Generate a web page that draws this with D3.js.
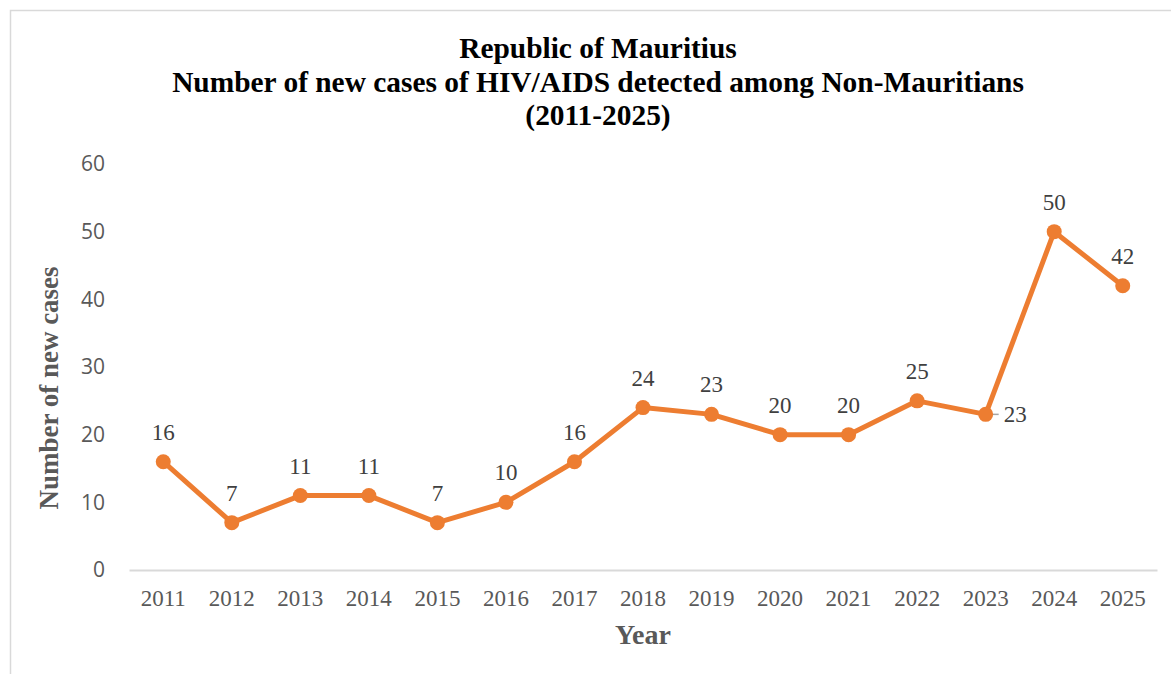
<!DOCTYPE html>
<html>
<head>
<meta charset="utf-8">
<script src="https://cdn.jsdelivr.net/npm/d3@7"></script>
<style>
  body { margin: 0; background: #fff; }
  svg { display: block; }
</style>
</head>
<body>
<div id="plot"></div>
<script>
// chart data
var years = ['2011','2012','2013','2014','2015','2016','2017','2018','2019','2020','2021','2022','2023','2024','2025'];
var cases = [16, 7, 11, 11, 7, 10, 16, 24, 23, 20, 20, 25, 23, 50, 42];
var yTicks = [0, 10, 20, 30, 40, 50, 60];
var titleLines = ['Republic of Mauritius',
  'Number of new cases of HIV/AIDS detected among Non-Mauritians',
  '(2011-2025)'];

var W = 1171, H = 674;
var margin = {t:164, r:14, b:104, l:129};
var orange = '#ED7D31', grey = '#595959';
var serif = '"Liberation Serif","Times New Roman",serif';

var svg = d3.select('#plot').append('svg')
  .attr('width', W).attr('height', H);

// chart area border
svg.append('rect')
  .attr('x', 10.5).attr('y', 10.5)
  .attr('width', W + 20).attr('height', H + 20)
  .style('fill', 'none').style('stroke', '#d9d9d9').style('stroke-width', 1.5);

var x = d3.scaleBand().domain(years).range([margin.l, W - margin.r]);
var y = d3.scaleLinear().domain([0, 60]).range([H - margin.b, margin.t]);

// title
svg.append('text')
  .attr('x', 598).attr('y', 58)
  .attr('text-anchor', 'middle')
  .style('font-family', serif).style('font-weight', 'bold').style('font-size', '29.4px')
  .selectAll('tspan').data(titleLines).enter().append('tspan')
  .attr('x', 598).attr('dy', function(d, i){ return i == 0 ? 0 : 33.5; })
  .text(function(d){ return d; });

// y axis (labels only)
var yAxis = svg.append('g')
  .attr('transform', 'translate(' + margin.l + ',0)')
  .call(d3.axisLeft(y).tickValues(yTicks).tickSize(0).tickPadding(24));
yAxis.select('.domain').remove();
yAxis.selectAll('text')
  .style('font-family', '"Open Sans",sans-serif').style('font-size', '21px')
  .style('fill', grey);

// x axis
var xAxis = svg.append('g')
  .attr('transform', 'translate(0,' + y(0) + ')')
  .call(d3.axisBottom(x).tickSize(0).tickPadding(20));
xAxis.select('.domain').style('stroke', '#d9d9d9').style('stroke-width', 2);
xAxis.selectAll('text')
  .style('font-family', serif).style('font-size', '23px')
  .style('fill', grey);

// axis titles
svg.append('text')
  .attr('transform', 'translate(58,388) rotate(-90)')
  .attr('text-anchor', 'middle')
  .style('font-family', serif).style('font-weight', 'bold').style('font-size', '27px')
  .style('fill', grey)
  .text('Number of new cases');

svg.append('text')
  .attr('x', 643).attr('y', 644)
  .attr('text-anchor', 'middle')
  .style('font-family', serif).style('font-weight', 'bold').style('font-size', '28px')
  .style('fill', grey)
  .text('Year');

var cx = function(d, i){ return x(years[i]) + x.bandwidth() / 2; };

// line
var line = d3.line()
  .x(function(d, i){ return cx(d, i); })
  .y(function(d){ return y(d); });

svg.append('path')
  .datum(cases)
  .attr('d', line)
  .style('fill', 'none').style('stroke', orange).style('stroke-width', 5)
  .style('stroke-linejoin', 'round');

// leader line for the 2023 label
svg.append('line')
  .attr('x1', cx(0, 12)).attr('x2', cx(0, 12) + 13)
  .attr('y1', y(cases[12])).attr('y2', y(cases[12]))
  .style('stroke', '#a6a6a6').style('stroke-width', 1.5);

svg.selectAll('circle.pt')
  .data(cases).enter().append('circle')
  .attr('class', 'pt')
  .attr('cx', cx).attr('cy', function(d){ return y(d); })
  .attr('r', 7.5)
  .style('fill', orange);

// data labels
svg.selectAll('text.lbl')
  .data(cases).enter().append('text')
  .attr('class', 'lbl')
  .attr('x', function(d, i){ return i == 12 ? cx(d, i) + 18 : cx(d, i); })
  .attr('y', function(d, i){ return i == 12 ? y(d) + 8 : y(d) - 22; })
  .attr('text-anchor', function(d, i){ return i == 12 ? 'start' : 'middle'; })
  .style('font-family', serif).style('font-size', '23px')
  .style('fill', '#404040')
  .text(function(d){ return d; });
</script>
</body>
</html>
